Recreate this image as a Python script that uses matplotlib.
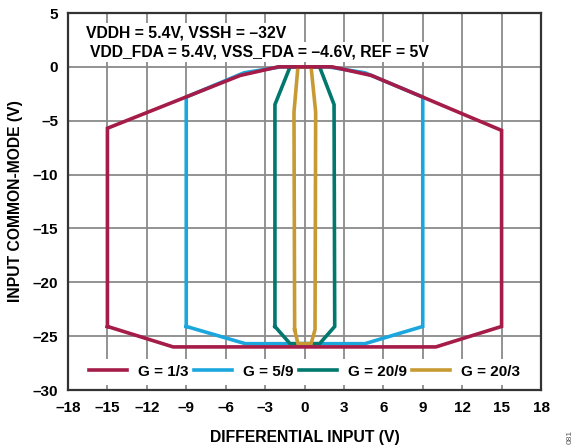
import matplotlib
matplotlib.use("Agg")
import matplotlib.pyplot as plt

plt.rcParams['font.family'] = ['Liberation Sans', 'DejaVu Sans']
plt.rcParams['font.weight'] = 'bold'

# Common-mode input range outlines for each gain setting
g13_x = [-15, -15, -4.9, -2.0, 2.1, 5.1, 15, 15, 10, -10, -15]
g13_y = [-24.1, -5.7, -0.8, 0, 0, -0.8, -5.9, -24.1, -26.0, -26.0, -24.1]

g59_x = [-9, -9, -4.6, -1.8, 1.8, 4.6, 9, 9, 4.6, -4.5, -9]
g59_y = [-24.1, -2.8, -0.55, 0, 0, -0.55, -2.8, -24.1, -25.7, -25.7, -24.1]

g209_x = [-2.25, -2.25, -1.1, 1.15, 2.25, 2.3, 1.15, -1.1, -2.25]
g209_y = [-24.1, -3.5, 0, 0, -3.5, -24.1, -25.7, -25.7, -24.1]

g203_x = [-0.75, -0.8, -0.5, 0.5, 0.85, 0.8, 0.5, -0.5, -0.75]
g203_y = [-24.4, -4.2, 0, 0, -4.2, -24.4, -25.7, -25.7, -24.4]

labels = ["G = 1/3", "G = 5/9", "G = 20/9", "G = 20/3"]
colors = ["#A51C48", "#1BA6DE", "#00786D", "#C89A33"]

x_ticks = list(range(-18, 19, 3))
y_ticks = list(range(-30, 6, 5))

fig = plt.figure(figsize=(5.77, 4.46), dpi=100)
ax = fig.add_axes([68 / 577, 1 - 390 / 446, (541 - 68) / 577, (390 - 13) / 446])

lw = 2.6
series = [(g13_x, g13_y), (g59_x, g59_y), (g209_x, g209_y), (g203_x, g203_y)]
handles = []
for i, ((xs, ys), lab, col) in enumerate(zip(series, labels, colors)):
    z = 5 if i == 0 else 3 + i * 0.1
    h, = ax.plot(xs, ys, color=col, lw=lw, label=lab, zorder=z,
                 solid_joinstyle='miter')
    handles.append(h)

ax.set_xlim(-18, 18)
ax.set_ylim(-30, 5)
ax.set_xticks(x_ticks)
ax.set_yticks(y_ticks)
ax.set_xticklabels([str(t).replace('-', '\u2013') for t in x_ticks])
ax.set_yticklabels([str(t).replace('-', '\u2013') for t in y_ticks])
ax.tick_params(axis='x', length=0, labelsize=11, pad=8)
ax.tick_params(axis='y', length=0, labelsize=11, pad=7)
for lab in ax.get_xticklabels() + ax.get_yticklabels():
    lab.set_fontweight('bold')

ax.grid(True, color='#8a8a8a', lw=1.3, zorder=1)
ax.set_axisbelow(True)
for s in ax.spines.values():
    s.set_color('#333333')
    s.set_linewidth(1.6)

ax.set_xlabel("DIFFERENTIAL INPUT (V)", fontsize=11.3, fontweight='bold', labelpad=11)
ax.set_ylabel("INPUT COMMON-MODE (V)", fontsize=11.3, fontweight='bold', labelpad=7)

box = dict(facecolor='white', edgecolor='none', pad=1.5)
ax.text(-16.6, 3.15, "VDDH = 5.4V, VSSH = \u201332V", fontsize=11.3, fontweight='bold',
        ha='left', va='center', bbox=box, zorder=4)
ax.text(-16.3, 1.38, "VDD_FDA = 5.4V, VSS_FDA = \u20134.6V, REF = 5V", fontsize=11.3,
        fontweight='bold', ha='left', va='center', bbox=box, zorder=4)

leg = ax.legend(handles=handles, loc='center', ncol=4, frameon=True,
                fontsize=11, handlelength=2.5, handletextpad=0.7, columnspacing=0.35,
                borderpad=0.4, bbox_to_anchor=(0.5, (-28.3 + 30) / 35))
leg.get_frame().set_facecolor('white')
leg.get_frame().set_edgecolor('none')
leg.get_frame().set_alpha(1)
leg.set_zorder(6)
for t in leg.get_texts():
    t.set_fontweight('bold')

fig.text(570 / 577, 1 - 437 / 446, "081", rotation=90, fontsize=6, color='#555555',
         ha='center', va='center', fontweight='normal')

fig.savefig("out.png", dpi=100)
